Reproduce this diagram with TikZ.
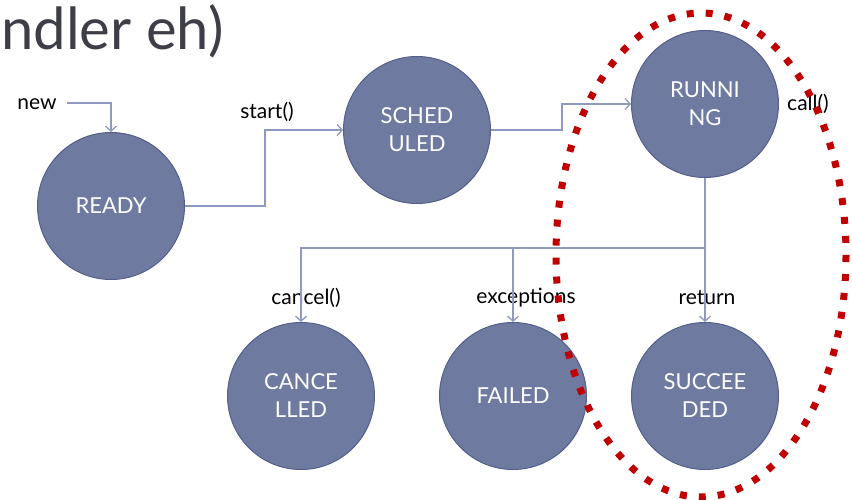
\documentclass[tikz,border=0pt]{standalone}
\usepackage{fontspec}
\setmainfont{Lato}
\usetikzlibrary{arrows.meta}
\definecolor{statefill}{HTML}{6E7AA0}
\definecolor{stateedge}{HTML}{55608A}
\definecolor{wirecol}{HTML}{8E9AC2}
\definecolor{ringred}{HTML}{C00000}
\definecolor{titlegray}{HTML}{3E3E48}
\begin{document}
\begin{tikzpicture}[x=1pt,y=-1pt,
  state/.style={circle, fill=statefill, draw=stateedge, line width=1pt,
    minimum size=147pt, inner sep=0pt, text=white, align=center,
    font=\fontsize{22}{28}\selectfont},
  wire/.style={draw=wirecol, line width=1.3pt,
    -{Straight Barb[length=5pt,width=11pt]}},
  lbl/.style={font=\fontsize{21}{22}\selectfont, text=black, inner sep=0pt},
]
\useasboundingbox (0,0) rectangle (852,500);

% slide title fragment
\node[anchor=base west, inner sep=0pt, font=\fontsize{58}{62}\selectfont,
  text=titlegray] (title) at (1,50) {ndler eh)};

% states
\node[state] (ready) at (111,206) {READY};
\node[state] (sched) at (417,130) {SCHED\\ULED};
\node[state] (run)   at (705,104) {RUNNI\\NG};
\node[state] (canc)  at (301,396) {CANCE\\LLED};
\node[state] (fail)  at (513,396) {FAILED};
\node[state] (succ)  at (705,396) {SUCCEE\\DED};

% transition labels
\node[lbl] (new)    at (37,104)  {new};
\node[lbl] (start)  at (267,112) {start()};
\node[lbl] (call)   at (808,104) {call()};
\node[lbl] (cancel) at (306,298) {cancel()};
\node[lbl] (exc)    at (526,298) {exceptions};
\node[lbl] (ret)    at (707,298) {return};

% routing points
\coordinate (newend) at (67,103);
\coordinate (j1) at (265,206);
\coordinate (j2) at (562,130);
\coordinate (split) at (705,248);

% transitions
\draw[wire] (newend) -| (ready.north);
\draw[wire] (ready.east) -- (j1) |- (sched.west);
\draw[wire] (sched.east) -- (j2) |- (run.west);
\draw[wire] (run.south) -- (split) -| (canc.north);
\draw[wire] (split -| fail.north) -- (fail.north);
\draw[wire] (split) -- (succ.north);

% highlight ring
\draw[ringred, line width=7pt, dash pattern=on 7pt off 12pt]
  (701,255) ellipse [x radius=145, y radius=242];
\end{tikzpicture}
\end{document}
